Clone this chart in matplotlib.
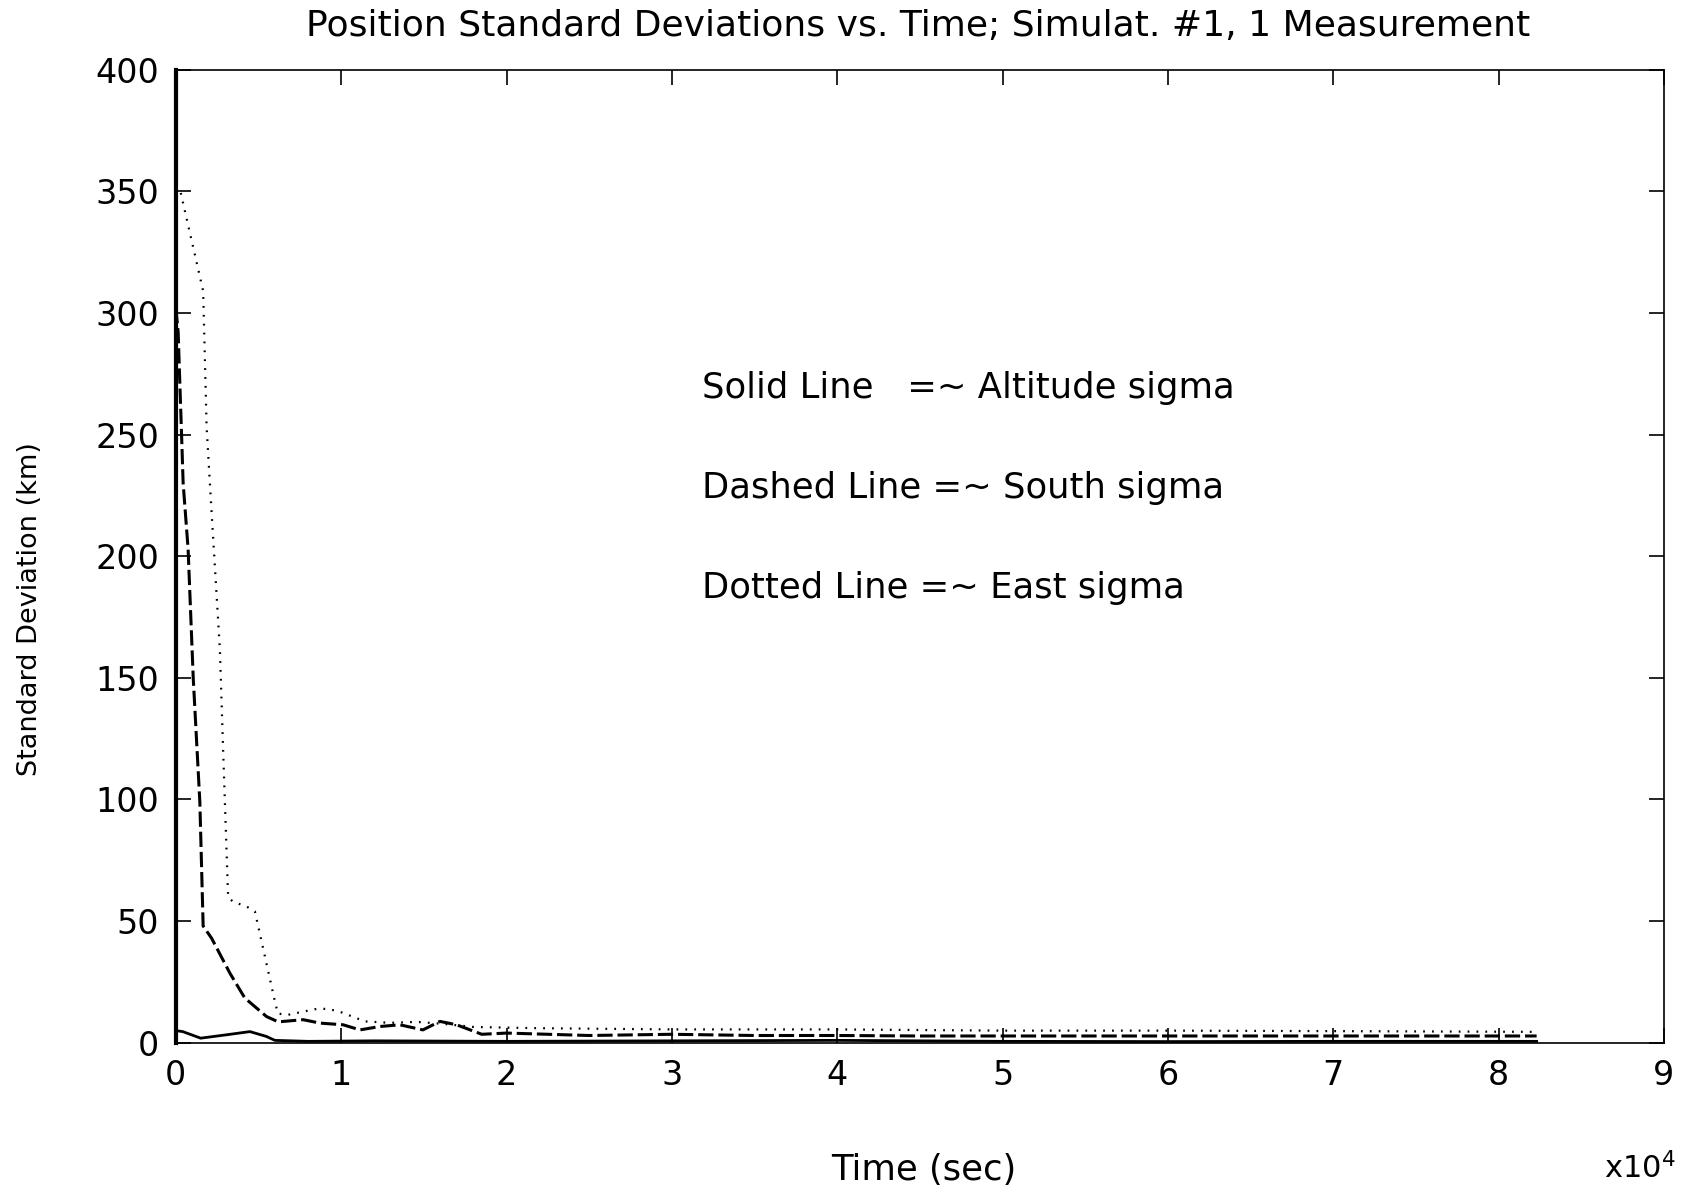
import matplotlib
matplotlib.use("Agg")
import matplotlib.pyplot as plt

# time (sec) and sigmas (km)
t_alt = [0, 420, 1500, 3070, 4480, 5480, 5990, 8000, 12000, 20000, 30000, 40000, 50000, 60000, 70000, 82300]
alt = [5, 4.6, 1.9, 3.3, 4.6, 2.6, 1.0, 0.6, 0.8, 0.6, 0.8, 1.0, 0.6, 0.5, 0.6, 0.6]

t_south = [0, 140, 240, 340, 440, 740, 1050, 1450, 1650, 2160, 3270, 4170, 5480, 6190, 7700, 8710,
           10120, 11130, 12340, 13550, 14940, 15970, 16980, 18500, 20000, 25000, 30000, 35000,
           40000, 45000, 50000, 60000, 70000, 82300]
south = [302, 292, 271, 251, 230, 203, 150, 99, 48, 43, 28.6, 18.4, 10.8, 8.6, 9.5, 8.1,
         7.4, 5.3, 6.7, 7.4, 5.3, 8.8, 7.4, 3.5, 4, 3, 3.5, 3, 3, 2.8, 2.8, 2.8, 2.8, 2.8]

t_east = [0, 240, 1650, 1860, 2100, 2660, 2860, 3160, 3450, 4280, 4780, 5990, 6170, 6780, 8400,
          9200, 10020, 11430, 12950, 14560, 16150, 18000, 22000, 30000, 40000, 50000, 60000,
          70000, 82300]
east = [352, 351, 309, 253, 225, 162, 120, 60, 58, 56, 54, 17, 12, 11.5, 13.8, 14, 12.5, 8.8,
        8.2, 8.6, 7.8, 6.5, 6, 5.5, 5.5, 5, 5, 4.8, 4.5]

notes = ["Solid Line   =~ Altitude sigma", "Dashed Line =~ South sigma", "Dotted Line =~ East sigma"]
note_y = [269, 228, 187]

plt.rcParams['font.family'] = 'DejaVu Sans'
fig = plt.figure(figsize=(16.91, 12), dpi=100)
ax = fig.add_axes([0.104, 0.131, 0.880, 0.811])

ax.plot(t_alt, alt, color="black", lw=2)
ax.plot(t_south, south, color="black", lw=2.2, linestyle=(0, (5, 1.6)))
ax.plot(t_east, east, color="black", lw=1.6, linestyle=(0, (0.8, 3.2)))

for s, yy in zip(notes, note_y):
    ax.text(31800, yy, s, fontsize=25.5, va="center", ha="left")

ax.set_xlim(0, 90000)
ax.set_ylim(0, 400)
ax.set_xticks(range(0, 90001, 10000))
ax.set_xticklabels([str(i) for i in range(10)])
ax.set_yticks(range(0, 401, 50))
ax.tick_params(direction="in", length=11, width=1.2, top=True, right=True,
               labelsize=24, pad=12)
for sp in ax.spines.values():
    sp.set_linewidth(1.2)
ax.spines["left"].set_linewidth(3)

fig.text(0.543, 0.978, "Position Standard Deviations vs. Time; Simulat. #1, 1 Measurement",
         fontsize=26, ha="center", va="center")
fig.text(0.546, 0.025, "Time (sec)", fontsize=25.5, ha="center", va="center")
fig.text(0.018, 0.4925, "Standard Deviation (km)", fontsize=19.5, rotation=90,
         ha="center", va="center")
fig.text(0.97, 0.018, r"x10$^4$", fontsize=22, ha="center")

fig.savefig("out.png", dpi=100)
